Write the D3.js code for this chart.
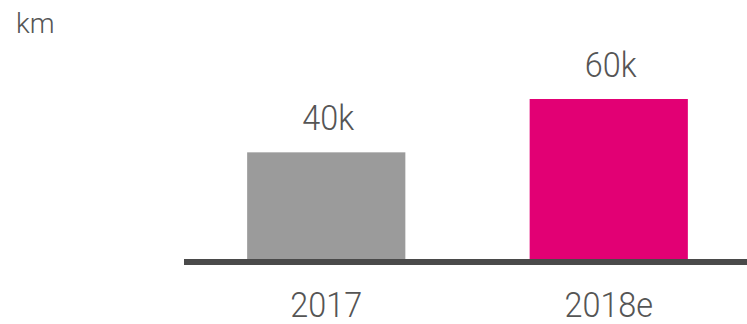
<!DOCTYPE html>
<html>
<head>
<meta charset="utf-8">
<script src="https://cdn.jsdelivr.net/npm/d3@7"></script>
<style>
  html, body { margin: 0; padding: 0; background: #fff; }
  svg { display: block; }
  text { font-family: Roboto, "Noto Sans", sans-serif; font-weight: 300; fill: #555; }
</style>
</head>
<body>
<svg id="chart" width="747" height="324"></svg>
<script>
// Distance driven, in km
const categories = ["2017", "2018e"];
const values = [40000, 60000];
const valueLabels = ["40k", "60k"];
const barColors = ["#9b9b9b", "#e20074"];
const unitLabel = "km";

const width = 747, height = 324;
const baseY = 259;
const squeeze = 0.9; // narrow the large numerals a little

const svg = d3.select("#chart");

const x = d3.scaleBand()
  .domain(categories)
  .range([185, 750])
  .paddingInner(0.44)
  .paddingOuter(0.22);

const y = d3.scaleLinear()
  .domain([0, 60000])
  .range([baseY, 99]);

// unit label
svg.append("text")
  .attr("x", 16)
  .attr("y", 33)
  .attr("font-size", 28)
  .text(unitLabel);

// bars
svg.selectAll("rect.bar")
  .data(categories)
  .join("rect")
  .attr("class", "bar")
  .attr("x", d => x(d))
  .attr("width", x.bandwidth())
  .attr("y", (d, i) => y(values[i]))
  .attr("height", (d, i) => y(0) - y(values[i]))
  .attr("fill", (d, i) => barColors[i]);

// value labels above bars
svg.selectAll("text.value")
  .data(categories)
  .join("text")
  .attr("class", "value")
  .attr("transform", (d, i) =>
    `translate(${x(d) + x.bandwidth() / 2 + 2},${y(values[i]) - 22}) scale(${squeeze},1)`)
  .attr("text-anchor", "middle")
  .attr("font-size", 36)
  .text((d, i) => valueLabels[i]);

// category axis
const axis = svg.append("g")
  .attr("transform", `translate(0,${baseY + 3})`)
  .call(d3.axisBottom(x).tickSize(0).tickPadding(0));

axis.attr("font-size", null).attr("font-family", null);
axis.select(".domain").remove();
axis.append("line")
  .attr("x1", 184).attr("x2", width)
  .attr("stroke", "#4a4a4a")
  .attr("stroke-width", 6);

axis.selectAll(".tick text")
  .attr("dy", null)
  .attr("y", null)
  .attr("transform", `translate(0,55) scale(${squeeze},1)`)
  .attr("font-size", 36)
  .attr("fill", "#555")
  .style("font-family", "Roboto, 'Noto Sans', sans-serif")
  .style("font-weight", 300);
</script>
</body>
</html>
